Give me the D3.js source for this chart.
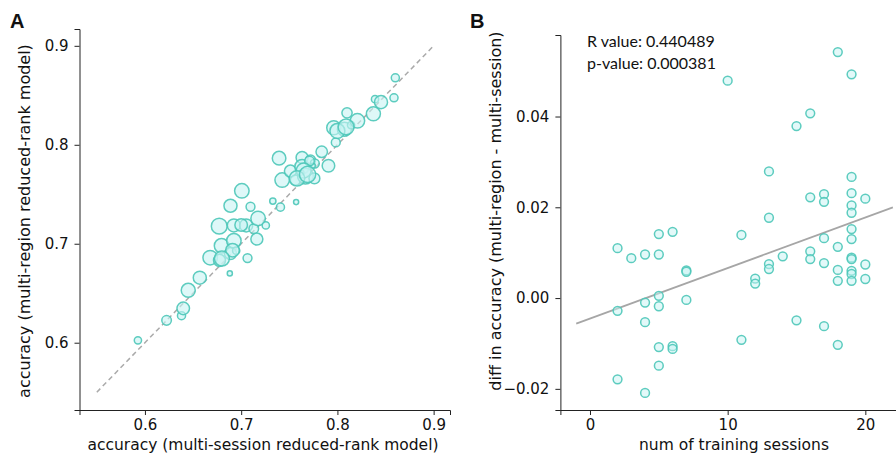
<!DOCTYPE html>
<html><head><meta charset="utf-8">
<script src="https://cdn.jsdelivr.net/npm/d3@7"></script>
<style>
html,body{margin:0;padding:0;background:#fff;}
svg{display:block;}
.tick text{font-family:"DejaVu Sans",sans-serif;font-size:15px;fill:#111;}
</style></head>
<body>
<svg id="chart" width="896" height="454"></svg>
<script>
// ---------- Panel A data ----------
const accMultiSession = [0.5927,0.6225,0.6380,0.6398,0.6450,0.6570,0.6678,0.6775,0.6796,0.6882,0.6889,0.6924,0.6948,0.7066,0.6772,0.6924,0.7052,0.7163,0.7131,0.7176,0.7256,0.6889,0.7097,0.7007,0.7329,0.7408,0.7571,0.7394,0.7426,0.7512,0.7564,0.7633,0.7633,0.7668,0.7626,0.7720,0.7761,0.7765,0.7744,0.7837,0.7907,0.7983,0.7962,0.8073,0.8100,0.8142,0.8208,0.8374,0.8391,0.8453,0.8602,0.8588,0.7710,0.7650,0.7580,0.7000,0.6910,0.8000,0.7690,0.8090,0.6800];
const accMultiRegion  = [0.6024,0.6226,0.6273,0.6347,0.6529,0.6657,0.6859,0.6832,0.6980,0.6700,0.6902,0.7030,0.6930,0.6855,0.7178,0.7185,0.7185,0.7047,0.7152,0.7256,0.7185,0.7384,0.7374,0.7535,0.7431,0.7370,0.7421,0.7865,0.7643,0.7734,0.7643,0.7872,0.7778,0.7684,0.7717,0.7845,0.7660,0.7811,0.7788,0.7929,0.7788,0.8024,0.8172,0.8158,0.8323,0.8199,0.8242,0.8313,0.8461,0.8431,0.8677,0.8475,0.7835,0.7740,0.7660,0.7190,0.6935,0.8140,0.7700,0.8180,0.6850];
const sessionsA       = [4,7,5,12,15,13,16,11,16,2,11,16,4,6,19,13,13,11,7,16,4,13,6,16,3,5,2,14,16,11,8,11,16,19,2,8,9,6,2,10,12,6,15,15,8,4,16,15,4,13,5,5,7,17,18,12,14,17,20,19,17];
const diagLine = [0.55, 0.90];
const ticksA = [0.6, 0.7, 0.8, 0.9];

// ---------- Panel B data ----------
const sessionsB = [18,19,10,16,15,13,19,17,19,16,20,17,19,19,13,6,5,11,19,19,17,2,18,3,4,5,14,16,16,19,19,17,13,20,7,7,13,18,19,19,12,12,18,19,20,5,7,4,5,2,4,15,17,11,18,5,6,6,5,2,4];
const diffB = [0.0542,0.0493,0.0479,0.0407,0.0379,0.0279,0.0267,0.0229,0.0231,0.0222,0.0219,0.0212,0.0204,0.0188,0.0177,0.0146,0.0141,0.0139,0.0152,0.0130,0.0132,0.0110,0.0113,0.0088,0.0096,0.0096,0.0092,0.0103,0.0086,0.0089,0.0086,0.0077,0.0075,0.0074,0.0061,0.0058,0.0064,0.0062,0.0060,0.0053,0.0043,0.0032,0.0038,0.0038,0.0042,0.0005,-0.0004,-0.0010,-0.0018,-0.0028,-0.0053,-0.0049,-0.0062,-0.0092,-0.0103,-0.0108,-0.0106,-0.0112,-0.0149,-0.0179,-0.0209];
const fitX = [-1, 22];
const fitY = [-0.00565, 0.0200];
const ticksBx = [0, 10, 20];
const ticksBy = [-0.02, 0.00, 0.02, 0.04];
const statsText = ["R value: 0.440489", "p-value: 0.000381"];

const svg = d3.select("#chart");
const teal = "#4cc7b8";
const fillC = "#c8f4f4";
const axisColor = "#222";
const fontMain = '"DejaVu Sans", sans-serif';

function styleAxis(g){
  g.select(".domain").attr("stroke", axisColor).attr("stroke-width", 1);
  g.selectAll(".tick line").attr("stroke", axisColor).attr("stroke-width", 1);
}

// ===== Panel A =====
const xA = d3.scaleLinear().domain([0.532, 0.917]).range([79.5, 450]);
const yA = d3.scaleLinear().domain([0.532, 0.917]).range([410, 29]);
const rA = d3.scaleSqrt().domain([0, 20]).range([0, 8.1]);

svg.append("line")
  .attr("x1", xA(diagLine[0])).attr("y1", yA(diagLine[0]))
  .attr("x2", xA(diagLine[1])).attr("y2", yA(diagLine[1]))
  .attr("stroke", "#aaaaaa").attr("stroke-width", 1.5)
  .attr("stroke-dasharray", "5,3.5");

const ptsA = accMultiSession.map((v, i) => ({x: v, y: accMultiRegion[i], n: sessionsA[i]}));
svg.append("g").selectAll("circle").data(ptsA).join("circle")
  .attr("cx", d => xA(d.x)).attr("cy", d => yA(d.y)).attr("r", d => rA(d.n))
  .attr("fill", fillC).attr("fill-opacity", 0.6)
  .attr("stroke", teal).attr("stroke-width", 1.5).attr("stroke-opacity", 0.9);

const gxA = svg.append("g").attr("transform", "translate(0,410)")
  .call(d3.axisBottom(xA).tickValues(ticksA).tickFormat(d3.format(".1f")).tickSizeOuter(0).tickSize(5).tickPadding(4));
styleAxis(gxA);
const gyA = svg.append("g").attr("transform", "translate(79.5,0)")
  .call(d3.axisLeft(yA).tickValues(ticksA).tickFormat(d3.format(".1f")).tickSizeOuter(0).tickSize(5).tickPadding(6));
styleAxis(gyA);

svg.append("text").attr("x", 263).attr("y", 450).attr("text-anchor", "middle")
  .attr("font-family", fontMain).attr("font-size", 15.5).attr("fill", "#111")
  .text("accuracy (multi-session reduced-rank model)");
svg.append("text").attr("transform", "translate(30,221) rotate(-90)").attr("text-anchor", "middle")
  .attr("font-family", fontMain).attr("font-size", 16).attr("fill", "#111")
  .text("accuracy (multi-region reduced-rank model)");
svg.append("text").attr("x", 10).attr("y", 28)
  .attr("font-family", "Liberation Sans, Arial, sans-serif").attr("font-weight", "bold").attr("font-size", 20).attr("fill", "#111")
  .text("A");

// ===== Panel B =====
const xB = d3.scaleLinear().domain([-2.15, 23.15]).range([560.4, 908.7]);
const yB = d3.scaleLinear().domain([-0.02466, 0.05796]).range([410, 35]);

svg.append("line")
  .attr("x1", xB(fitX[0])).attr("y1", yB(fitY[0]))
  .attr("x2", xB(fitX[1])).attr("y2", yB(fitY[1]))
  .attr("stroke", "#a6a6a6").attr("stroke-width", 1.8);

const ptsB = sessionsB.map((n, i) => ({x: n, y: diffB[i]}));
svg.append("g").selectAll("circle").data(ptsB).join("circle")
  .attr("cx", d => xB(d.x)).attr("cy", d => yB(d.y)).attr("r", 4.4)
  .attr("fill", fillC).attr("fill-opacity", 0.5)
  .attr("stroke", teal).attr("stroke-width", 1.5).attr("stroke-opacity", 0.9);

const gxB = svg.append("g").attr("transform", "translate(0,410)")
  .call(d3.axisBottom(xB).tickValues(ticksBx).tickFormat(d3.format("d")).tickSizeOuter(0).tickSize(5).tickPadding(4));
styleAxis(gxB);
const gyB = svg.append("g").attr("transform", "translate(560.4,0)")
  .call(d3.axisLeft(yB).tickValues(ticksBy).tickFormat(d3.format(".2f")).tickSizeOuter(0).tickSize(5).tickPadding(6));
styleAxis(gyB);

svg.append("text").attr("x", 734).attr("y", 450).attr("text-anchor", "middle")
  .attr("font-family", fontMain).attr("font-size", 15.5).attr("fill", "#111")
  .text("num of training sessions");
svg.append("text").attr("transform", "translate(501,211) rotate(-90)").attr("text-anchor", "middle")
  .attr("font-family", fontMain).attr("font-size", 16).attr("fill", "#111")
  .text("diff in accuracy (multi-region - multi-session)");
svg.append("text").attr("x", 470).attr("y", 28)
  .attr("font-family", "Liberation Sans, Arial, sans-serif").attr("font-weight", "bold").attr("font-size", 20).attr("fill", "#111")
  .text("B");

svg.append("g").selectAll("text").data(statsText).join("text")
  .attr("x", 587).attr("y", (d, i) => 47 + i * 22)
  .attr("font-family", "Lato, 'Open Sans', sans-serif").attr("font-size", 16).attr("fill", "#111")
  .text(d => d);
</script>
</body></html>
